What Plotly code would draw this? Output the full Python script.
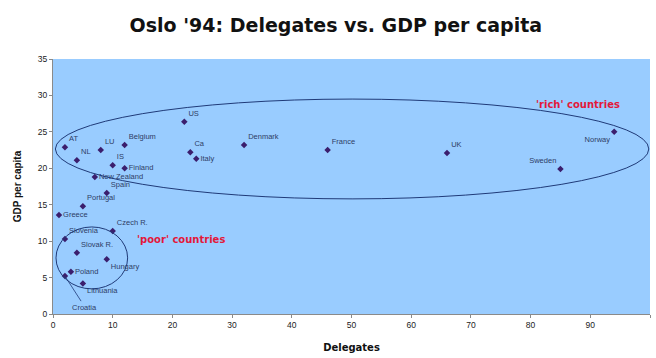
import plotly.graph_objects as go

# Delegates sent to Oslo '94 and GDP per capita (thousands) by country
countries = ["Norway", "Sweden", "UK", "France", "Denmark", "US", "Ca", "Italy",
             "Belgium", "AT", "NL", "LU", "IS", "Finland", "New Zealand", "Spain",
             "Portugal", "Greece", "Czech R.", "Slovenia", "Slovak R.", "Hungary",
             "Poland", "Croatia", "Lithuania"]
delegates = [94, 85, 66, 46, 32, 22, 23, 24,
             12, 2, 4, 8, 10, 12, 7, 9,
             5, 1, 10, 2, 4, 9,
             3, 2, 5]
gdp_per_capita = [25.0, 19.9, 22.1, 22.5, 23.2, 26.4, 22.2, 21.3,
                  23.2, 22.9, 21.1, 22.5, 20.4, 20.0, 18.8, 16.6,
                  14.8, 13.6, 11.4, 10.3, 8.4, 7.5,
                  5.8, 5.2, 4.2]

# where each country name sits relative to its marker
label_pos = ["bottom left", "top left", "top right", "top right", "top right",
             "top right", "top right", "middle right", "top right", "top right",
             "top right", "top right", "top right", "middle right", "middle right",
             "top right", "top right", "middle right", "top right", "top right",
             "top right", "bottom right", "middle right", "middle right",
             "bottom right"]

x_ticks = [0, 10, 20, 30, 40, 50, 60, 70, 80, 90, 100]
y_ticks = [0, 5, 10, 15, 20, 25, 30, 35]

FONT = "Liberation Sans, Arial, sans-serif"
WIDE = "DejaVu Sans, Verdana, sans-serif"
INK = "#2E3C66"
RED = "#E3183A"

# Croatia's name is pulled out with a leader line instead of an inline label
inline_text = ["" if c == "Croatia" else c for c in countries]

fig = go.Figure()
fig.add_trace(go.Scatter(
    x=delegates, y=gdp_per_capita, mode="markers+text",
    text=inline_text, textposition=label_pos,
    textfont=dict(family=FONT, size=7.5, color=INK),
    marker=dict(symbol="diamond", size=5, color="#3B1E6D"),
    hoverinfo="text", hovertext=countries, showlegend=False,
))

ci = countries.index("Croatia")
fig.add_annotation(x=delegates[ci], y=gdp_per_capita[ci], text="Croatia",
                   showarrow=True, arrowhead=0, arrowwidth=0.8, arrowcolor="#1F3A78",
                   ax=20, ay=31, font=dict(family=FONT, size=7.5, color=INK))

# groupings drawn as ellipses
fig.add_shape(type="circle", xref="x", yref="y", x0=0.4, x1=99.8, y0=15.8, y1=29.5,
              line=dict(color="#1F3A78", width=1))
fig.add_shape(type="circle", xref="x", yref="y", x0=0.5, x1=12.5, y0=3.45, y1=11.95,
              line=dict(color="#1F3A78", width=1))

fig.add_annotation(x=87.9, y=28.8, text="<b>'rich' countries</b>", showarrow=False,
                   font=dict(family=WIDE, size=10, color=RED))
fig.add_annotation(x=21.5, y=10.2, text="<b>'poor' countries</b>", showarrow=False,
                   font=dict(family=WIDE, size=10, color=RED))

fig.update_layout(
    width=656, height=358,
    margin=dict(l=53, r=6, t=59, b=44),
    paper_bgcolor="white", plot_bgcolor="#99CCFF",
    title=dict(text="<b>Oslo '94: Delegates vs. GDP per capita</b>",
               x=0.512, xanchor="center", y=0.93, yanchor="middle",
               font=dict(family=WIDE, size=19, color="#111111")),
    xaxis=dict(range=[0, 100], tickvals=x_ticks, showgrid=False, zeroline=False,
               showline=True, linecolor="#8A8A8A", linewidth=1,
               ticks="outside", ticklen=3, tickcolor="#8A8A8A",
               tickfont=dict(family=FONT, size=8.5, color="#222222"),
               title=dict(text="<b>Delegates</b>", standoff=14,
                          font=dict(family=WIDE, size=10, color="#111111"))),
    yaxis=dict(range=[0, 35], tickvals=y_ticks, showgrid=False, zeroline=False,
               showline=True, linecolor="#8A8A8A", linewidth=1,
               ticks="outside", ticklen=3, tickcolor="#8A8A8A",
               tickfont=dict(family=FONT, size=8.5, color="#222222"),
               title=dict(text="<b>GDP per capita</b>", standoff=14,
                          font=dict(family=FONT, size=10, color="#111111"))),
)

fig.write_html("out.html")
